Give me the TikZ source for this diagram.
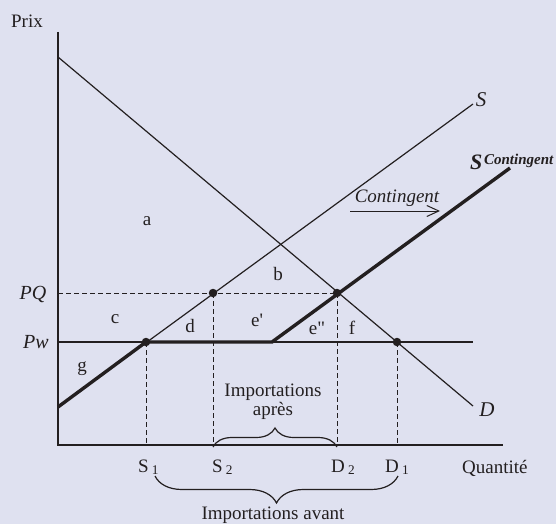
\documentclass[tikz,border=0pt]{standalone}
\usepackage{fontspec}
\setmainfont{Liberation Serif}
\usetikzlibrary{arrows.meta,decorations.pathreplacing}
\definecolor{bgcol}{RGB}{223,225,240}
\definecolor{ink}{RGB}{35,31,32}

\begin{document}
\begin{tikzpicture}[
  x=1pt, y=-1pt,
  txt/.style={font=\fontsize{19}{19}\selectfont, text=ink, inner sep=0pt},
  itl/.style={txt, font=\fontsize{20}{22}\selectfont\itshape},
  curve/.style={draw=ink, line width=1.2pt},
  quota/.style={draw=ink, line width=3.4pt},
  guide/.style={draw=ink, line width=1pt, dash pattern=on 5pt off 3pt},
  eqpt/.style={circle, fill=ink, inner sep=0pt, minimum size=8.5pt},
  brc/.style={draw=ink, line width=1.2pt, decorate, decoration={brace, amplitude=#1}},
  arr/.style={-{Straight Barb[length=12pt,width=11pt]}, draw=ink, line width=1pt},
]
\useasboundingbox (0,0) rectangle (556,524);
\fill[bgcol] (0,0) rectangle (556,524);

% ---- key points ----
\coordinate (O)     at (58,445);
\coordinate (Ytop)  at (58,32);
\coordinate (Xend)  at (503,445);
\coordinate (Dtop)  at (58,57);
\coordinate (Dend)  at (473,406);
\coordinate (Sbot)  at (58,407);
\coordinate (Stop)  at (473,104);
\coordinate (Pw)    at (58,342);
\coordinate (PwEnd) at (473,342);
\coordinate (PQ)    at (58,293);
\coordinate (Kink)  at (272,342);
\coordinate (Cend)  at (510,168);
\coordinate (pS1) at (146,342); \coordinate (xS1) at (146,445);
\coordinate (pS2) at (213,293); \coordinate (xS2) at (213,445);
\coordinate (pD2) at (337,293); \coordinate (xD2) at (337,445);
\coordinate (pD1) at (397,342); \coordinate (xD1) at (397,445);

% ======================= guides =======================
\draw[guide] (PQ) -- (pD2);
\draw[guide] (pS1) -- (xS1);
\draw[guide] (pS2) -- (xS2);
\draw[guide] (pD2) -- (xD2);
\draw[guide] (pD1) -- (xD1);

% ======================= axes + curves =======================
\draw[curve] (Ytop) -- (O) -- (Xend);
\draw[curve] (Dtop) -- (Dend);
\draw[curve] (Sbot) -- (Stop);
\draw[curve] (Pw) -- (PwEnd);

% supply with quota (thick)
\draw[quota] (Sbot) -- (pS1) -- (Kink) -- (Cend);

% equilibrium points
\node[eqpt] (S1) at (pS1) {};
\node[eqpt] (S2) at (pS2) {};
\node[eqpt] (D2) at (pD2) {};
\node[eqpt] (D1) at (pD1) {};

% ======================= labels =======================
\node[txt] (lblPrix) at (27,21) {Prix};
\node[txt, anchor=base west] (lblQte) at (462,473) {Quantité};
\node[itl] (lblPQ) at (33,294) {PQ};
\node[itl] (lblPw) at (36,342) {Pw};
\node[itl, font=\fontsize{21}{23}\selectfont\itshape] (lblS) at (481,100) {S};
\node[itl, font=\fontsize{21}{23}\selectfont\itshape] (lblD) at (487,410) {D};
\node[txt, anchor=west, font=\bfseries\itshape] (lblSC) at (470,162)
  {{\fontsize{22}{24}\selectfont S}\,\raisebox{1.05ex}{\fontsize{15}{15}\selectfont Contingent}};
\node[itl, font=\fontsize{19}{21}\selectfont\itshape] (lblCont) at (397,198) {Contingent};
\coordinate (cA) at (350,211);
\coordinate (cB) at (440,211);
\draw[arr] (cA) -- (cB);

% surplus areas
\node[txt] (ra)  at (147,221) {a};
\node[txt] (rb)  at (278,274) {b};
\node[txt] (rc)  at (115,319) {c};
\node[txt] (rd)  at (190,326) {d};
\node[txt] (re1) at (257,320) {e\textquotesingle};
\node[txt] (re2) at (317,328) {e\textquotedbl};
\node[txt] (rf)  at (352,328) {f};
\node[txt] (rg)  at (82,369)  {g};

% quantities on the axis
\node[txt, anchor=base west] (qS1) at (138,472) {S\,\textsubscript{1}};
\node[txt, anchor=base west] (qS2) at (212,472) {S\,\textsubscript{2}};
\node[txt, anchor=base west] (qD2) at (331,472) {D\,\textsubscript{2}};
\node[txt, anchor=base west] (qD1) at (385,472) {D\,\textsubscript{1}};

% ======================= imports =======================
\coordinate (bA1) at (213,447); \coordinate (bA2) at (337,447);
\draw[brc=19] (bA1) -- (bA2);
\node[txt, align=center] (lblApres) at (273,402) {Importations\\après};

\coordinate (bB1) at (398,476); \coordinate (bB2) at (155,476);
\draw[brc=27] (bB1) -- (bB2);
\node[txt] (lblAvant) at (273,515) {Importations avant};
\end{tikzpicture}
\end{document}
